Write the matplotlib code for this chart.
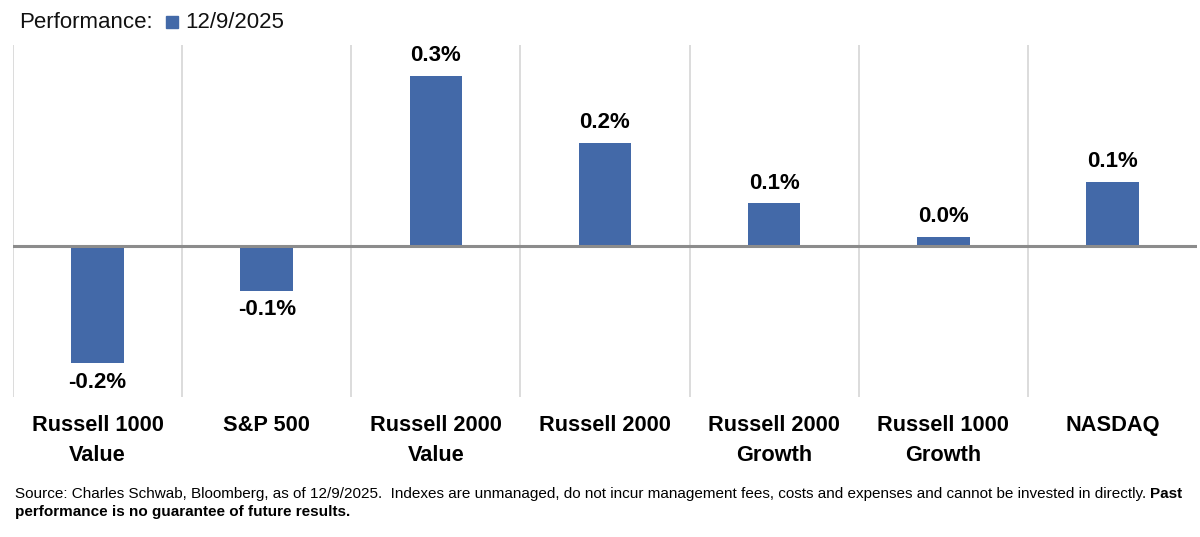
import matplotlib
matplotlib.use("Agg")
import matplotlib.pyplot as plt
import numpy as np
from matplotlib.patches import Rectangle

categories = ["Russell 1000\nValue", "S&P 500", "Russell 2000\nValue", "Russell 2000",
              "Russell 2000\nGrowth", "Russell 1000\nGrowth", "NASDAQ"]
values = [-0.208, -0.080, 0.302, 0.183, 0.076, 0.016, 0.114]
labels = ["-0.2%", "-0.1%", "0.3%", "0.2%", "0.1%", "0.0%", "0.1%"]
series_name = "12/9/2025"

BAR = "#4369A8"
FONT = ["Liberation Sans", "DejaVu Sans"]
W, H = 1200, 537
fig = plt.figure(figsize=(W / 100, H / 100), dpi=100)
ax = fig.add_axes([13 / W, 1 - 397 / H, (1197 - 13) / W, (397 - 45) / H])

x = np.arange(len(categories))
ax.bar(x, values, width=0.31, color=BAR, zorder=3)
ax.set_xlim(-0.5, len(categories) - 0.5)
ax.set_ylim(-0.268, 0.357)

bounds = np.arange(len(categories) + 1) - 0.5
ax.set_xticks(bounds[:-1], minor=True)
ax.grid(True, which="minor", axis="x", color="#d9d9d9", linewidth=1.3, zorder=0)
ax.tick_params(axis="x", which="minor", length=0)
ax.axhline(0, color="#8c8c8c", linewidth=2.2, zorder=4)

ax.set_xticks(x)
ax.set_xticklabels(categories, fontsize=15.7, fontweight="bold",
                   family=FONT, linespacing=1.55)
ax.tick_params(axis="x", which="major", length=0, pad=13)
ax.set_yticks([])
for s in ax.spines.values():
    s.set_visible(False)

for xi, v, lab in zip(x, values, labels):
    off = 7 if v >= 0 else -6
    ax.annotate(lab, (xi, v), xytext=(0, off), textcoords="offset points",
                ha="center", va="bottom" if v >= 0 else "top",
                fontsize=16, fontweight="bold", family=FONT)

fig.text(19 / W, 1 - 23 / H, "Performance:", fontsize=16, va="center", ha="left",
         family=FONT, color="#111111")
fig.patches.append(Rectangle((166 / W, 1 - 28 / H), 12 / W, 12 / H,
                             transform=fig.transFigure, color=BAR, figure=fig))
fig.text(185 / W, 1 - 23 / H, series_name, fontsize=16, va="center", ha="left",
         family=FONT, color="#111111")

# footnote: fit first line to reference width
fs = 10.5
t1 = fig.text(15 / W, 1 - 494 / H,
              "Source: Charles Schwab, Bloomberg, as of 12/9/2025.  Indexes are unmanaged, do not incur management fees, costs and expenses and cannot be invested in directly. ",
              fontsize=fs, va="center", ha="left", family=FONT)
t2 = fig.text(0, 1 - 494 / H, "Past", fontsize=fs, va="center", ha="left",
              family=FONT, fontweight="bold")
fig.canvas.draw()
r = fig.canvas.get_renderer()
total = t1.get_window_extent(r).width + t2.get_window_extent(r).width
fs2 = fs * (1192 - 15) / total
t1.set_fontsize(fs2)
t2.set_fontsize(fs2)
fig.canvas.draw()
bb = t1.get_window_extent(r)
t2.set_x(bb.x1 / W)
fig.text(15 / W, 1 - 512 / H, "performance is no guarantee of future results.",
         fontsize=fs2, va="center", ha="left", family=FONT, fontweight="bold")

fig.savefig("out.png", dpi=100)
